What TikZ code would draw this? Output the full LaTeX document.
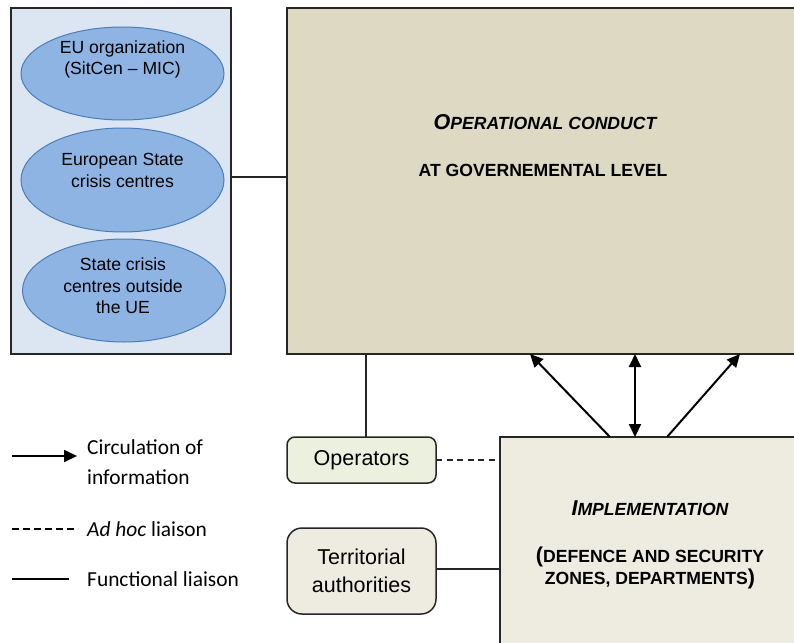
\documentclass[tikz,border=0pt]{standalone}
\usepackage{fontspec}
\setmainfont{Liberation Sans}
\newfontfamily\legendfont{Carlito}
\usetikzlibrary{shapes.geometric,arrows.meta}

\definecolor{panelblue}{HTML}{DCE6F2}
\definecolor{ovalblue}{HTML}{8EB4E3}
\definecolor{ovaledge}{HTML}{4A7EBB}
\definecolor{govfill}{HTML}{DDD9C3}
\definecolor{implfill}{HTML}{EEECE1}
\definecolor{opsfill}{HTML}{EBF1DE}
\definecolor{edge}{HTML}{262626}

% full-size capital followed by small capitals
\newcommand{\fullcap}[1]{{\fontsize{21.5}{24}\selectfont #1}}
\newcommand{\smcap}[1]{{\fontsize{17.6}{22}\selectfont #1}}

\begin{document}
\begin{tikzpicture}[x=1pt,y=-1pt,
  box/.style={draw=edge,line width=1.5pt,inner sep=0pt,outer sep=0pt},
  oval/.style={ellipse,draw=ovaledge,fill=ovalblue,line width=1pt,inner sep=0pt,minimum width=203pt},
  ovaltext/.style={align=center,font=\fontsize{17.6}{21.5}\selectfont,inner sep=0pt},
  link/.style={draw=edge,line width=1.4pt},
  adhoc/.style={draw=edge,line width=1.3pt,dash pattern=on 6pt off 4.5pt},
  tip/.tip={Triangle[length=13pt,width=12pt]},
  info/.style={draw=black,line width=2pt,-tip},
  infoboth/.style={draw=black,line width=2pt,tip-tip},
  legtext/.style={anchor=west,align=left,inner sep=0pt,font=\legendfont\fontsize{21.4}{30}\selectfont}
]
\useasboundingbox (0,0) rectangle (794,642);
\clip (0,0) rectangle (794,642);

% crisis-centre panel
\node[box,fill=panelblue,minimum width=220pt,minimum height=346pt] (panel) at (121,181) {};
\node[oval,minimum height=93pt] (e1) at (122.5,73.5) {};
\node[oval,minimum height=104pt] (e2) at (122.5,180) {};
\node[oval,minimum height=103pt] (e3) at (124,290.5) {};
\node[ovaltext] (e1t) at (122.5,59.5) {EU organization\\(SitCen -- MIC)};
\node[ovaltext] (e2t) at (122.5,170.5) {European State\\crisis centres};
\node[ovaltext] (e3t) at (123,286) {State crisis\\centres outside\\the UE};

% governmental level
\node[box,fill=govfill,minimum width=513pt,minimum height=346pt] (top) at (543.5,181) {};
\node[inner sep=0pt,font=\bfseries\itshape] (topt1) at (545,122)
  {\fullcap{O}\smcap{PERATIONAL CONDUCT}};
\node[inner sep=0pt,font=\bfseries] (topt2) at (543,170)
  {\smcap{AT GOVERNEMENTAL LEVEL}};

% implementation level
\node[box,fill=implfill,minimum width=300pt,minimum height=213pt] (impl) at (650,543.5) {};
\node[inner sep=0pt,font=\bfseries\itshape] (implt1) at (650,508)
  {\fullcap{I}\smcap{MPLEMENTATION}};
\node[inner sep=0pt,align=center,font=\bfseries\fontsize{17.6}{22}\selectfont] (implt2) at (650,568)
  {\fullcap{(}DEFENCE AND SECURITY\\ZONES, DEPARTMENTS\fullcap{)}};

% operators and territorial authorities
\node[box,fill=opsfill,rounded corners=8pt,minimum width=149pt,minimum height=46pt,
      font=\fontsize{21.5}{26}\selectfont] (ops) at (361.5,460) {Operators};
\node[box,fill=implfill,rounded corners=15pt,minimum width=149pt,minimum height=86pt,
      align=center,font=\fontsize{21.5}{28}\selectfont] (terr) at (361.5,571)
  {Territorial\\authorities};

% liaisons
\draw[link] ([yshift=4pt]panel.east) -- ([yshift=4pt]top.west);
\draw[link] ([xshift=4.5pt]ops.north |- top.south) -- ([xshift=4.5pt]ops.north);
\draw[adhoc] (ops.east) -- (impl.west |- ops.east);
\draw[link] ([yshift=2pt]terr.east) -- ([yshift=2pt]impl.west |- terr.east);

% circulation of information
\draw[info] ([xshift=-40pt]impl.north) -- ([xshift=-13.5pt]top.south);
\draw[infoboth] ([xshift=-15pt]impl.north) -- ([xshift=91.5pt]top.south);
\draw[info] ([xshift=17pt]impl.north) -- ([xshift=196.5pt]top.south);

% legend
\coordinate (la1) at (12,456);  \coordinate (la2) at (77,456);
\coordinate (ld1) at (12,529);  \coordinate (ld2) at (78,529);
\coordinate (lf1) at (12,579);  \coordinate (lf2) at (69,579);
\draw[draw=black,line width=1.8pt,-{Triangle[length=13pt,width=12pt]}] (la1) -- (la2);
\draw[draw=black,line width=1.2pt,dash pattern=on 7pt off 4pt] (ld1) -- (ld2);
\draw[draw=black,line width=1.4pt] (lf1) -- (lf2);
\node[legtext] (lt1) at (87,462) {Circulation of\\information};
\node[legtext] (lt2) at (87,529) {\textit{Ad hoc} liaison};
\node[legtext] (lt3) at (87,579) {Functional liaison};
\end{tikzpicture}
\end{document}
